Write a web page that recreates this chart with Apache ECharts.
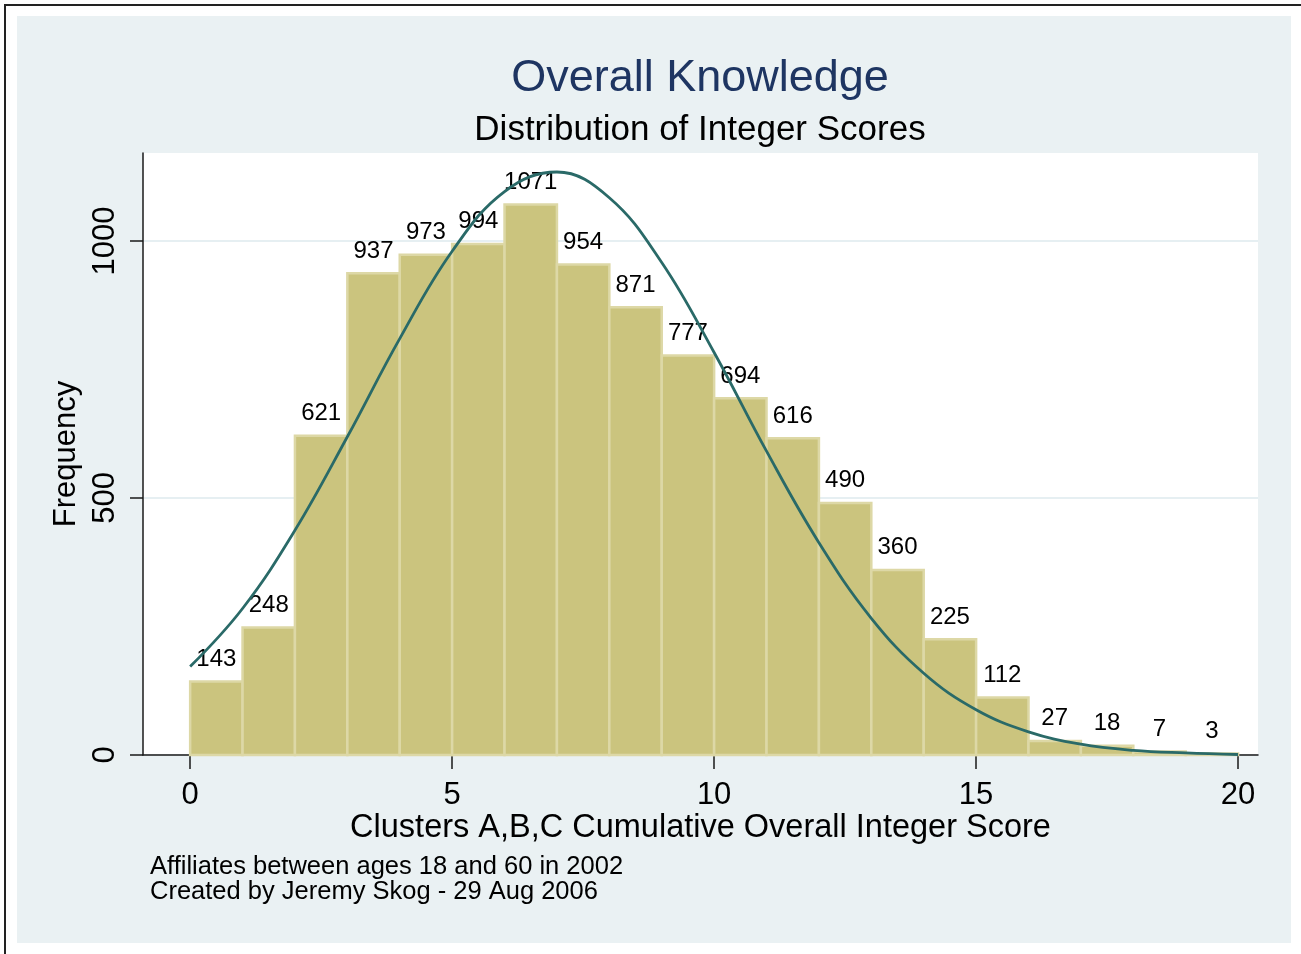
<!DOCTYPE html>
<html>
<head>
<meta charset="utf-8">
<script src="https://cdn.jsdelivr.net/npm/echarts@6.0.0/dist/echarts.min.js"></script>
<style>
  html, body { margin: 0; padding: 0; background: #fff; }
  #frame { position: absolute; left: 4px; top: 4px; width: 1310px; height: 970px;
           border-top: 2px solid #222; border-left: 2px solid #222; }
  #bg { position: absolute; left: 17px; top: 16px; width: 1274px; height: 927px; background: #eaf1f3; }
  #main { position: absolute; left: 0; top: 0; width: 1301px; height: 954px; }
</style>
</head>
<body>
<div id="frame"></div>
<div id="bg"></div>
<div id="main"></div>
<script>
   // histogram bins: left edge of each bin (width 1)
   var binStart = [0, 1, 2, 3, 4, 5, 6, 7, 8, 9, 10, 11, 12, 13, 14, 15, 16, 17, 18, 19];
   var counts   = [143, 248, 621, 937, 973, 994, 1071, 954, 871, 777, 694, 616, 490, 360, 225, 112, 27, 18, 7, 3];

   // normal density overlay at each score
   var curveX = [0, 1, 2, 3, 4, 5, 6, 7, 8, 9, 10, 11, 12, 13, 14, 15, 16, 17, 18, 19, 20];
   var curveY = [172, 285, 437, 619, 810, 980, 1096, 1134, 1084, 958, 783, 591, 413, 266, 159, 88, 45, 21, 9, 4, 1];

   // axis ticks
   var xTicks = [0, 5, 10, 15, 20];
   var yTicks = [0, 500, 1000];

   var FONT = 'Liberation Sans, Arial, Helvetica, sans-serif';

   var barData = [];
   for (var i = 0; i < binStart.length; i++) {
       barData.push([binStart[i], binStart[i] + 1, counts[i]]);
   }
   var lineData = [];
   for (var i = 0; i < curveX.length; i++) {
       lineData.push([curveX[i], curveY[i]]);
   }

   var myChart = echarts.init(document.getElementById('main'));
   myChart.setOption({
       animation: false,
       graphic: [
           { type: 'text', x: 700, y: 79,
             style: { text: 'Overall Knowledge', font: '45px ' + FONT, fill: '#1e3562',
                      align: 'center', verticalAlign: 'middle' } },
           { type: 'text', x: 700, y: 130,
             style: { text: 'Distribution of Integer Scores', font: '35px ' + FONT, fill: '#000',
                      align: 'center', verticalAlign: 'middle' } },
           { type: 'text', x: 150, y: 867,
             style: { text: 'Affiliates between ages 18 and 60 in 2002', font: '25.5px ' + FONT, fill: '#000',
                      align: 'left', verticalAlign: 'middle' } },
           { type: 'text', x: 150, y: 892,
             style: { text: 'Created by Jeremy Skog - 29 Aug 2006', font: '25.5px ' + FONT, fill: '#000',
                      align: 'left', verticalAlign: 'middle' } }
       ],
       grid: {
           left: 143, right: 43, top: 153, bottom: 199,
           show: true, backgroundColor: '#fff', borderWidth: 0
       },
       xAxis: {
           type: 'value',
           min: -0.9, max: 20.38,
           name: 'Clusters A,B,C Cumulative Overall Integer Score',
           nameLocation: 'middle', nameGap: 57, nameMoveOverlap: false,
           nameTextStyle: { fontFamily: FONT, fontSize: 32.5, color: '#000' },
           axisLine: { lineStyle: { color: '#1a1a1a', width: 1.5 } },
           axisTick: { customValues: xTicks, length: 14, lineStyle: { color: '#1a1a1a', width: 1.5 } },
           axisLabel: { customValues: xTicks, margin: 25, fontFamily: FONT, fontSize: 31, color: '#000' },
           splitLine: { show: false }
       },
       yAxis: {
           type: 'value',
           min: 0, max: 1171,
           name: 'Frequency',
           nameLocation: 'middle', nameGap: 57,
           nameTextStyle: { fontFamily: FONT, fontSize: 31, color: '#000' },
           axisLine: { show: true, onZero: false, lineStyle: { color: '#1a1a1a', width: 1.5 } },
           axisTick: { show: true, customValues: yTicks, length: 13, lineStyle: { color: '#1a1a1a', width: 1.5 } },
           axisLabel: { customValues: yTicks, rotate: 90, margin: 22, fontFamily: FONT, fontSize: 31, color: '#000',
                        formatter: function (v) { return String(v); } },
           splitLine: { show: true, lineStyle: { color: '#e6eff2', width: 2 } }
       },
       series: [
           {
               type: 'custom',
               data: barData,
               encode: { x: [0, 1], y: 2 },
               renderItem: function (params, api) {
                   var p0 = api.coord([api.value(0), api.value(2)]);
                   var p1 = api.coord([api.value(1), 0]);
                   return {
                       type: 'rect',
                       shape: { x: p0[0], y: p0[1], width: p1[0] - p0[0], height: p1[1] - p0[1] },
                       style: { fill: '#cbc47e', stroke: '#ddd8a6', lineWidth: 2.5 },
                       textContent: {
                           style: { text: String(api.value(2)), font: '24px ' + FONT, fill: '#000' }
                       },
                       textConfig: { position: 'top', distance: 9 }
                   };
               },
               z: 2
           },
           {
               type: 'line',
               data: lineData,
               smooth: 0.4,
               showSymbol: false,
               lineStyle: { color: '#2a6a68', width: 2.8 },
               z: 3
           }
       ]
   });
</script>
</body>
</html>
